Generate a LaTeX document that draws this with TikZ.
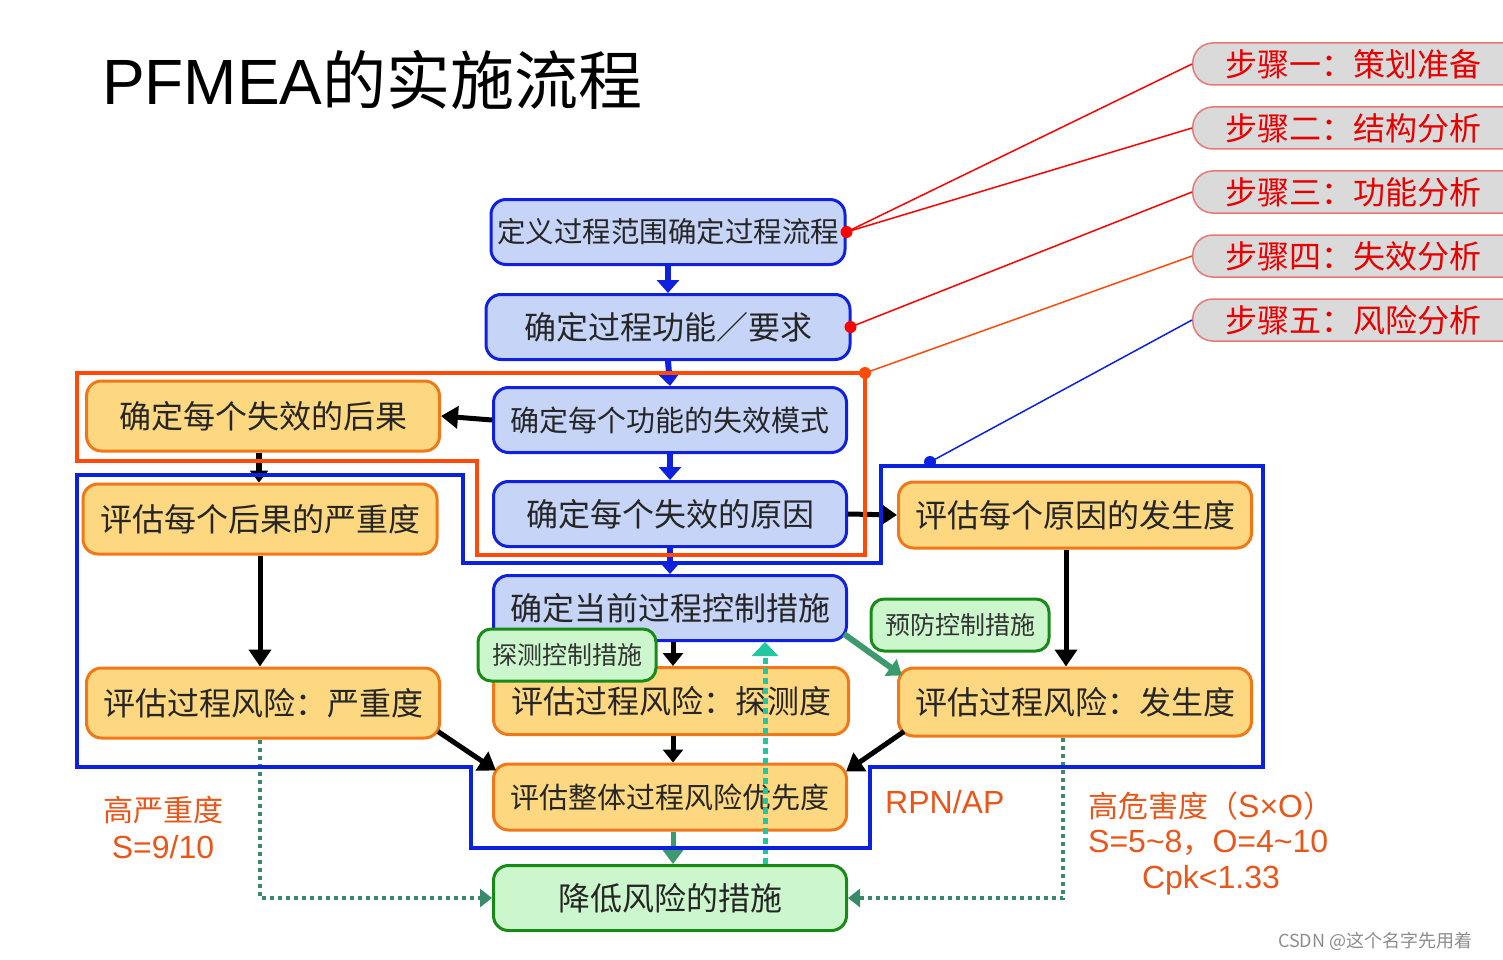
\documentclass[tikz,border=0pt]{standalone}
\usepackage{fontspec}
\setmainfont{Noto Sans CJK SC}
\newfontfamily\latinfont{Liberation Sans}
\usepackage{tikz}
\usetikzlibrary{arrows.meta, positioning, calc}

\newcommand{\pxfont}[1]{\fontsize{#1}{#1}\selectfont}
\newcommand{\lat}[1]{{\latinfont\pxfont{32}#1}}

\definecolor{boxblue}{HTML}{C6D4F7}
\definecolor{lineblue}{HTML}{1020E0}
\definecolor{boxorange}{HTML}{FDD880}
\definecolor{lineorange}{HTML}{F07818}
\definecolor{boxgreen}{HTML}{CCF7CC}
\definecolor{linegreen}{HTML}{188A18}
\definecolor{framered}{HTML}{FF4A0A}
\definecolor{frameblue}{HTML}{0A22E0}
\definecolor{stepgray}{HTML}{DADADA}
\definecolor{steppink}{HTML}{E87878}
\definecolor{steptext}{HTML}{E60000}
\definecolor{arrowgreen}{HTML}{3C9A6E}
\definecolor{dotteal}{HTML}{22C6A0}
\definecolor{dotgreen}{HTML}{3A8A6A}
\definecolor{notetext}{HTML}{E8561A}

\tikzset{
  flowbox/.style={rounded corners=15pt, line width=3pt, minimum width=353pt,
    minimum height=66pt, inner sep=3pt, font=\pxfont{32}, text=black!85},
  bluebox/.style={flowbox, draw=lineblue, fill=boxblue},
  orangebox/.style={flowbox, draw=lineorange, fill=boxorange},
  greenbox/.style={flowbox, draw=linegreen, fill=boxgreen},
  tagbox/.style={rounded corners=13pt, line width=3pt, draw=linegreen, fill=boxgreen,
    minimum width=178pt, minimum height=52pt, font=\pxfont{25}, text=black!80},
  stepbox/.style={rounded corners=20pt, line width=1.5pt, draw=steppink, fill=stepgray,
    minimum height=42pt, text width=300pt, align=left, inner xsep=33pt, inner ysep=2pt,
    anchor=west, font=\pxfont{32}, text=steptext},
  bluearrow/.style={line width=6pt, lineblue, -{Triangle[length=13pt,width=22pt]}},
  blkarrow/.style={line width=5pt, black, -{Triangle[length=17pt,width=22pt]}},
  grnarrow/.style={line width=5pt, arrowgreen, -{Triangle[length=14pt,width=20pt]}},
  dotarrow/.style={line width=4pt, dotgreen, dash pattern=on 4pt off 4pt,
    -{Triangle[length=12pt,width=18pt]}},
  note/.style={font=\pxfont{30}, text=notetext, inner sep=0pt},
}

\begin{document}
\begin{tikzpicture}[x=1pt, y=-1pt]
\useasboundingbox (0,0) rectangle (1503,960);

% title
\node[anchor=base west, inner sep=0pt, font=\pxfont{64}] (title) at (102,105)
  {{\latinfont PFMEA}的实施流程};

% step labels
\node[stepbox] (s1) at (1192,64) {步骤一：策划准备};
\node[stepbox] (s2) at (1192,128) {步骤二：结构分析};
\node[stepbox] (s3) at (1192,192) {步骤三：功能分析};
\node[stepbox] (s4) at (1192,256) {步骤四：失效分析};
\node[stepbox] (s5) at (1192,320) {步骤五：风险分析};

% middle column
\node[bluebox, minimum width=354pt, minimum height=65pt, font=\pxfont{28.5}] (scope) at (668,232) {定义过程范围确定过程流程};
\node[bluebox, minimum width=364pt, minimum height=65pt] (func) at (668,327) {确定过程功能／要求};
\node[bluebox, minimum height=65pt, font=\pxfont{29}] (mode) at (670,420) {确定每个功能的失效模式};
\node[bluebox, minimum height=65pt] (cause) at (670,514) {确定每个失效的原因};
\node[bluebox, minimum height=65pt] (ctrl) at (670,608) {确定当前过程控制措施};
\node[orangebox, minimum width=355pt, minimum height=67pt] (det) at (671,701) {评估过程风险：探测度};
\node[orangebox, font=\pxfont{29}] (prio) at (670,797) {评估整体过程风险优先度};
\node[greenbox, minimum height=65pt] (act) at (670,898) {降低风险的措施};

% left column
\node[orangebox, minimum height=70pt] (eff) at (263,416) {确定每个失效的后果};
\node[orangebox, minimum width=354pt, minimum height=70pt] (sev) at (260,519) {评估每个后果的严重度};
\node[orangebox, minimum height=70pt] (rsev) at (263,703) {评估过程风险：严重度};

% right column
\node[orangebox] (occ) at (1075,515) {评估每个原因的发生度};
\node[orangebox, minimum height=68pt] (rocc) at (1075,702) {评估过程风险：发生度};

% arrows
\draw[bluearrow] (scope.south) -- (func.north);
\draw[bluearrow] (func.south) -- (mode.north);
\draw[bluearrow] (mode.south) -- (cause.north);
\draw[bluearrow] (cause.south) -- (ctrl.north);
\draw[blkarrow] (mode.west) -- (eff.east);
\draw[blkarrow, line width=6pt, -{Triangle[length=12pt,width=18pt]}] ([xshift=-4pt]eff.south) -- ([xshift=-4pt]eff.south |- sev.north);
\draw[blkarrow] (cause.east) -- (occ.west);
\draw[blkarrow] (sev.south) -- (sev.south |- rsev.north);
\draw[blkarrow] ([xshift=-9pt]occ.south) -- ([xshift=-9pt]occ.south |- rocc.north);
\draw[blkarrow, -{Triangle[length=13pt,width=20pt]}] ([xshift=3pt]ctrl.south) -- ([xshift=3pt]ctrl.south |- det.north);
\draw[blkarrow, -{Triangle[length=13pt,width=20pt]}] ([xshift=2pt]det.south) -- ([xshift=2pt]det.south |- prio.north);
\draw[blkarrow] ([xshift=-3pt,yshift=8pt]rsev.south east) -- ([xshift=4pt,yshift=-8pt]prio.north west);
\draw[blkarrow] ([xshift=7pt,yshift=6pt]rocc.south west) -- ([xshift=-2pt,yshift=-9pt]prio.north east);
\draw[grnarrow, line width=6pt] ([xshift=-4pt,yshift=8pt]ctrl.south east) -- ([xshift=5pt,yshift=-9pt]rocc.north west);
\draw[grnarrow] ([xshift=3pt]prio.south) -- ([xshift=3pt]prio.south |- act.north);

% dotted feedback
\draw[dotarrow, line width=5pt, dotteal, dash pattern=on 6pt off 4pt, -{Triangle[length=14pt,width=26pt]}]
  ([xshift=95pt]act.north) -- ([xshift=95pt]act.north |- ctrl.south);
\draw[dotarrow] ([xshift=-3pt]rsev.south) -- ([xshift=-3pt]rsev.south |- act.west) -- (act.west);
\draw[dotarrow] ([xshift=-12pt]rocc.south) -- ([xshift=-12pt]rocc.south |- act.east) -- (act.east);

% control tags
\node[tagbox] (dtag) at (567,655) {探测控制措施};
\node[tagbox] (ptag) at (960,625) {预防控制措施};

% step 4 frame
\draw[framered, line width=4pt] (77,373) -- (865,373) -- (865,555) -- (477,555)
  -- (477,461) -- (77,461) -- cycle;
% step 5 frame
\draw[frameblue, line width=4pt] (77,475) -- (463,475) -- (463,563) -- (881,563)
  -- (881,466) -- (1263,466) -- (1263,767) -- (870,767) -- (870,848) -- (471,848)
  -- (471,767) -- (77,767) -- cycle;

% links to steps
\coordinate (f4) at (865,373);
\coordinate (f5) at (930,462);
\draw[red, line width=1.5pt] (scope.east) -- (s1.west);
\draw[red, line width=1.5pt] (scope.east) -- (s2.west);
\draw[red, line width=1.5pt] ([xshift=-1pt]func.east) -- (s3.west);
\draw[framered, line width=1.5pt] (f4) -- (s4.west);
\draw[frameblue, line width=1.5pt] (f5) -- (s5.west);
\fill[red] (scope.east) circle (6pt);
\fill[red] ([xshift=-1pt]func.east) circle (6pt);
\fill[framered] (f4) circle (6pt);
\fill[frameblue] (f5) circle (6pt);

% notes
\node[note] (hsev) at (163,810) {高严重度};
\node[note] (hsevv) at (163,847) {\lat{S=9/10}};
\node[note, anchor=west] (rpn) at (885,802) {\lat{RPN/AP}};
\node[note, anchor=west] (hrisk) at (1088,806) {高危害度（\lat{S×O}）};
\node[note, anchor=west] (hriskv) at (1088,843) {\lat{S=5\textasciitilde 8}，\lat{O=4\textasciitilde 10}};
\node[note] (cpk) at (1211,880) {\lat{Cpk<1.33}};
\node[font=\pxfont{18}, text=black!45, anchor=west, inner sep=0pt] (mark) at (1278,941) {CSDN @这个名字先用着};
\end{tikzpicture}
\end{document}
